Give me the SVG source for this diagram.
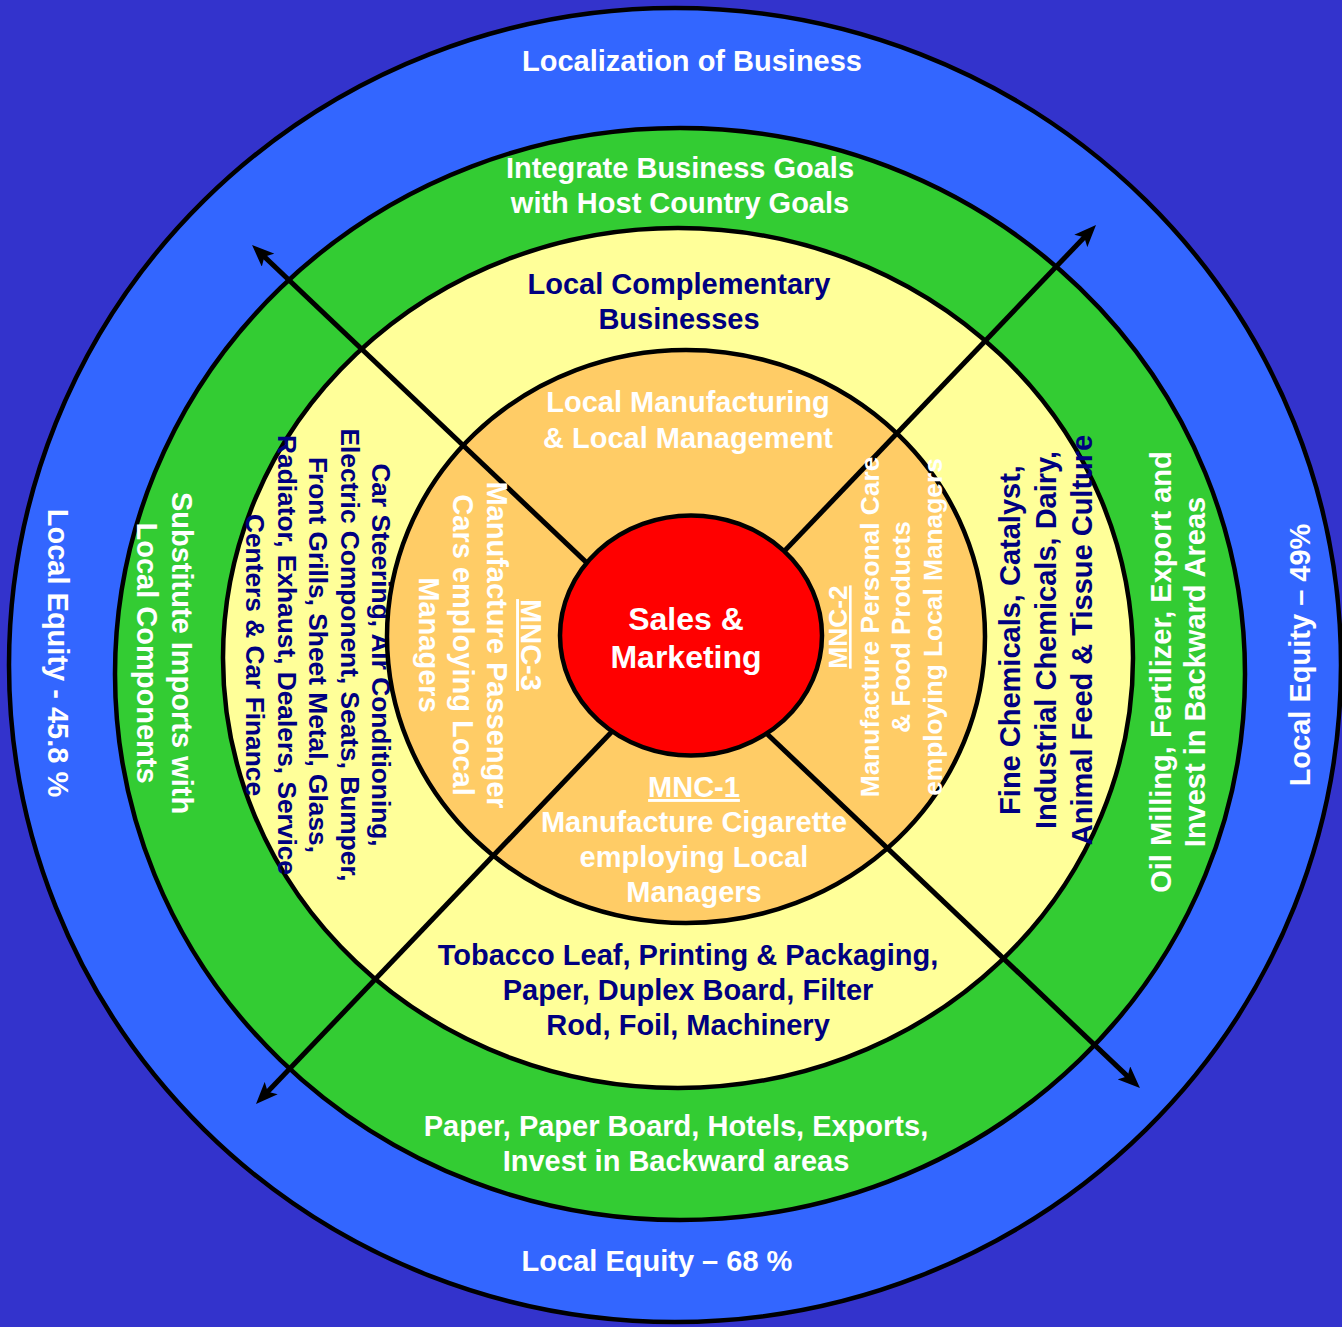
<svg xmlns="http://www.w3.org/2000/svg" width="1342" height="1327" viewBox="0 0 1342 1327">
  <defs>
    <style>
      .ring { stroke: #000; stroke-width: 4.5; }
      .t { font-family: "Liberation Sans", Arial, Helvetica, sans-serif; font-weight: bold; text-anchor: middle; }
      .w { fill: #ffffff; }
      .n { fill: #000080; }
      .f29 { font-size: 29px; }
      .f26 { font-size: 26.3px; }
      .f32 { font-size: 32px; }
      .u { text-decoration: underline; }
      .arrow { fill: none; stroke: #000; stroke-width: 5; marker-start: url(#head); marker-end: url(#head); }
    </style>
    <marker id="head" markerUnits="userSpaceOnUse" viewBox="0 0 22 18" markerWidth="22" markerHeight="18" refX="12" refY="9" orient="auto-start-reverse">
      <path d="M0,0 L22,9 L0,18 L5,9 Z" fill="#000"/>
    </marker>
  </defs>

  <!-- backdrop -->
  <rect width="1342" height="1327" fill="#3333CC"/>

  <!-- outer ring: localization of business -->
  <g id="localization">
    <ellipse class="ring" cx="675" cy="665" rx="666" ry="657" fill="#3366FF"/>
    <text class="t w f29" x="692" y="71">Localization of Business</text>
    <text class="t w f29" x="657" y="1271">Local Equity – 68 %</text>
    <text class="t w f29" transform="translate(48,653) rotate(90)">Local Equity - 45.8 %</text>
    <text class="t w f29" transform="translate(1310,655) rotate(-90)">Local Equity – 49%</text>
  </g>

  <!-- second ring: host country goals -->
  <g id="integrate-goals">
    <ellipse class="ring" cx="680" cy="674" rx="565" ry="546" fill="#33CC33"/>
    <text class="t w f29" x="680" y="178">Integrate Business Goals</text>
    <text class="t w f29" x="680" y="213">with Host Country Goals</text>
    <text class="t w f29" x="676" y="1136">Paper, Paper Board, Hotels, Exports,</text>
    <text class="t w f29" x="676" y="1171">Invest in Backward areas</text>
    <g transform="translate(172,653) rotate(90)">
      <text class="t w f29" y="0">Substitute Imports with</text>
      <text class="t w f29" y="35">Local Components</text>
    </g>
    <g transform="translate(1171,672) rotate(-90)">
      <text class="t w f29" y="0">Oil Milling, Fertilizer, Export and</text>
      <text class="t w f29" y="34">Invest in Backward Areas</text>
    </g>
  </g>

  <!-- third ring: complementary businesses -->
  <g id="complementary">
    <ellipse class="ring" cx="678" cy="658" rx="455" ry="430" fill="#FFFF99"/>
    <text class="t n f29" x="679" y="294">Local Complementary</text>
    <text class="t n f29" x="679" y="329">Businesses</text>
    <text class="t n f29" x="688" y="965">Tobacco Leaf, Printing &amp; Packaging,</text>
    <text class="t n f29" x="688" y="1000">Paper, Duplex Board, Filter</text>
    <text class="t n f29" x="688" y="1035">Rod, Foil, Machinery</text>
    <g transform="translate(372,655) rotate(90)">
      <text class="t n f26" y="0">Car Steering, Air Conditioning,</text>
      <text class="t n f26" y="31.5">Electric Component, Seats, Bumper,</text>
      <text class="t n f26" y="63">Front Grills, Sheet Metal, Glass,</text>
      <text class="t n f26" y="94.5">Radiator, Exhaust, Dealers, Service</text>
      <text class="t n f26" y="126">Centers &amp; Car Finance</text>
    </g>
    <g transform="translate(1020,640) rotate(-90)">
      <text class="t n f29" y="0">Fine Chemicals, Catalyst,</text>
      <text class="t n f29" y="36">Industrial Chemicals, Dairy,</text>
      <text class="t n f29" y="72">Animal Feed &amp; Tissue Culture</text>
    </g>
  </g>

  <!-- inner ring: local manufacturing -->
  <g id="manufacturing">
    <ellipse class="ring" cx="686" cy="636.5" rx="299" ry="286.5" fill="#FFCC66"/>
    <text class="t w f29" x="688" y="412">Local Manufacturing</text>
    <text class="t w f29" x="688" y="448">&amp; Local Management</text>
  </g>

  <!-- diagonal arrows crossing all rings -->
  <g id="connectors">
    <path class="arrow" d="M259.3,251.9 L1132.7,1081.1"/>
    <path class="arrow" d="M262.9,1096.8 L1089.1,232.2"/>
  </g>

  <!-- MNC units in the inner ring, lettered over the arrows -->
  <g id="mnc-1">
    <text class="t w f29 u" x="694" y="797">MNC-1</text>
    <text class="t w f29" x="694" y="832">Manufacture Cigarette</text>
    <text class="t w f29" x="694" y="867">employing Local</text>
    <text class="t w f29" x="694" y="902">Managers</text>
  </g>
  <g id="mnc-2" transform="translate(847,627) rotate(-90)">
    <text class="t w f26 u" y="0">MNC-2</text>
    <text class="t w f26" y="31.5">Manufacture Personal Care</text>
    <text class="t w f26" y="63">&amp; Food Products</text>
    <text class="t w f26" y="95">employing Local Managers</text>
  </g>
  <g id="mnc-3" transform="translate(521,645) rotate(90)">
    <text class="t w f29 u" y="0">MNC-3</text>
    <text class="t w f29" y="34">Manufacture Passenger</text>
    <text class="t w f29" y="68">Cars employing Local</text>
    <text class="t w f29" y="102">Managers</text>
  </g>

  <!-- core -->
  <g id="sales-marketing">
    <ellipse class="ring" cx="691" cy="635.5" rx="131" ry="120" fill="#FF0000"/>
    <text class="t w f32" x="686" y="630">Sales &amp;</text>
    <text class="t w f32" x="686" y="668">Marketing</text>
  </g>
</svg>
